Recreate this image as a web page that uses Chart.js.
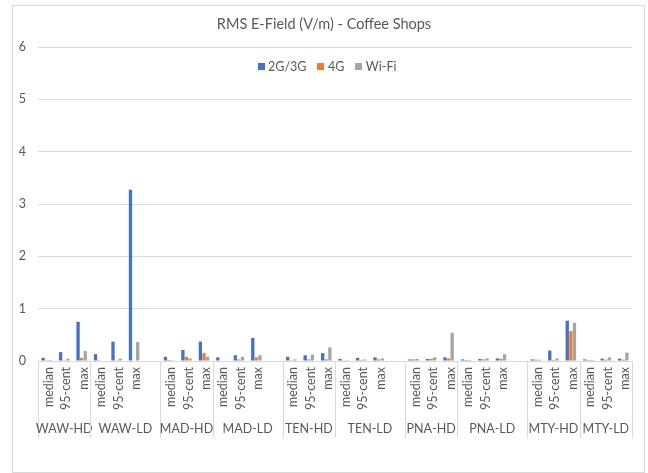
<!DOCTYPE html>
<html>
<head>
<meta charset="utf-8">
<script src="https://cdn.jsdelivr.net/npm/chart.js@4.4.1/dist/chart.umd.min.js"></script>
<style>
  html, body { margin: 0; padding: 0; background: #fff; }
  #wrap { position: relative; width: 648px; height: 473px; }
  #frame { position: absolute; left: 12px; top: 5px; width: 633px; height: 468px;
           border: 1px solid #d9d9d9; box-sizing: border-box; pointer-events: none; }
</style>
</head>
<body>
<div id="wrap">
  <canvas id="rmsChart" width="648" height="473"></canvas>
  <div id="frame"></div>
</div>
<script>
// sites x density, each with median / 95-cent / max
const groups = ['WAW-HD', 'WAW-LD', 'MAD-HD', 'MAD-LD', 'TEN-HD', 'TEN-LD', 'PNA-HD', 'PNA-LD', 'MTY-HD', 'MTY-LD'];
const stats = ['median', '95-cent', 'max'];

const g2g3 = [0.06, 0.17, 0.75,  0.13, 0.37, 3.27,  0.08, 0.21, 0.37,  0.07, 0.11, 0.44,  0.08, 0.11, 0.15,
              0.04, 0.06, 0.07,  0.03, 0.04, 0.07,  0.03, 0.04, 0.05,  0.03, 0.20, 0.77,  0.03, 0.045, 0.045];
const lte  = [0.005, 0.005, 0.06,  0.005, 0.005, 0.01,  0.02, 0.08, 0.15,  0.01, 0.03, 0.07,  0.015, 0.03, 0.03,
              0.005, 0.02, 0.03,  0.03, 0.04, 0.05,  0.02, 0.03, 0.04,  0.025, 0.02, 0.57,  0.02, 0.025, 0.025];
const wifi = [0.02, 0.045, 0.19,  0.01, 0.045, 0.36,  0.015, 0.05, 0.08,  0.01, 0.08, 0.11,  0.03, 0.12, 0.26,
              0.015, 0.03, 0.05,  0.04, 0.07, 0.54,  0.02, 0.05, 0.13,  0.025, 0.05, 0.73,  0.02, 0.07, 0.16];

const seriesNames = ['2G/3G', '4G', 'Wi-Fi'];
const seriesColors = ['#4472C4', '#ED7D31', '#A5A5A5'];
const yTicks = [0, 1, 2, 3, 4, 5, 6];

// build the flat category list, with an empty slot after each LD group (except the last)
const labels = [];
const cols = [[], [], []];
const spans = [];
groups.forEach((g, gi) => {
    const start = labels.length;
    stats.forEach((s, si) => {
        labels.push(s);
        [g2g3, lte, wifi].forEach((arr, k) => cols[k].push(arr[gi * 3 + si]));
    });
    if (g.endsWith('-LD') && gi < groups.length - 1) {
        labels.push('');
        cols.forEach(c => c.push(null));
    }
    spans.push({ name: g, start: start, end: labels.length - 1 });
});

Chart.defaults.font.family = 'Lato';
Chart.defaults.color = '#595959';

const groupLabels = {
    id: 'groupLabels',
    afterDraw(chart) {
        const { ctx, chartArea, scales: { x } } = chart;
        const half = (x.getPixelForValue(1) - x.getPixelForValue(0)) / 2;
        ctx.save();
        ctx.strokeStyle = '#d9d9d9';
        ctx.lineWidth = 1;
        ctx.fillStyle = '#595959';
        ctx.font = '12.5px Lato';
        ctx.textAlign = 'center';
        ctx.textBaseline = 'middle';
        const line = px => {
            const xx = Math.round(px) + 0.5;
            ctx.beginPath();
            ctx.moveTo(xx, chartArea.bottom);
            ctx.lineTo(xx, chartArea.bottom + 77);
            ctx.stroke();
        };
        spans.forEach((s, i) => {
            const left = x.getPixelForValue(s.start) - half;
            const right = x.getPixelForValue(s.end) + half;
            line(left);
            if (i === spans.length - 1) line(right);
            ctx.fillText(s.name, (left + right) / 2, chartArea.bottom + 68);
        });
        ctx.restore();
    }
};

const topLegend = {
    id: 'topLegend',
    afterDraw(chart) {
        const ctx = chart.ctx;
        ctx.save();
        ctx.font = '12.5px Lato';
        ctx.textBaseline = 'middle';
        const box = 7, gapText = 3.5, gapItem = 11;
        const widths = chart.data.datasets.map(d => box + gapText + ctx.measureText(d.label).width);
        const total = widths.reduce((a, b) => a + b, 0) + gapItem * (widths.length - 1);
        let cx = 327 - total / 2;
        const cy = 67;
        chart.data.datasets.forEach((d, i) => {
            ctx.fillStyle = d.backgroundColor;
            ctx.fillRect(Math.round(cx), cy - 4, box, box);
            ctx.fillStyle = '#595959';
            ctx.fillText(d.label, cx + box + gapText, cy);
            cx += widths[i] + gapItem;
        });
        ctx.restore();
    }
};

const ctx = document.getElementById('rmsChart').getContext('2d');
const rmsChart = new Chart(ctx, {
    type: 'bar',
    data: {
        labels: labels,
        datasets: seriesNames.map((name, k) => ({
            label: name,
            data: cols[k],
            backgroundColor: seriesColors[k],
            barPercentage: 0.92,
            categoryPercentage: 0.62
        }))
    },
    options: {
        responsive: false,
        animation: false,
        devicePixelRatio: 1,
        layout: { padding: { left: 16, right: 16, top: 5, bottom: 0 } },
        plugins: {
            legend: { display: false },
            tooltip: { enabled: false },
            title: {
                display: true,
                text: 'RMS E-Field (V/m) - Coffee Shops',
                font: { size: 14.5, weight: 'normal' },
                color: '#595959',
                padding: { top: 11, bottom: 13.6 }
            }
        },
        scales: {
            x: {
                grid: { display: false, drawTicks: false },
                border: { display: true, color: '#d9d9d9' },
                ticks: { autoSkip: false, minRotation: 90, maxRotation: 90, padding: 6, labelOffset: 2,
                         font: { size: 12.5 }, color: '#595959' },
                afterFit: scale => { scale.height = 112; }
            },
            y: {
                min: 0,
                max: 6,
                afterBuildTicks: scale => { scale.ticks = yTicks.map(v => ({ value: v })); },
                grid: { color: '#d9d9d9', drawTicks: false },
                border: { display: false },
                ticks: { padding: 12, font: { size: 12.5 }, color: '#595959' },
                afterFit: scale => { scale.width = 22; }
            }
        }
    },
    plugins: [groupLabels, topLegend]
});
</script>
</body>
</html>
